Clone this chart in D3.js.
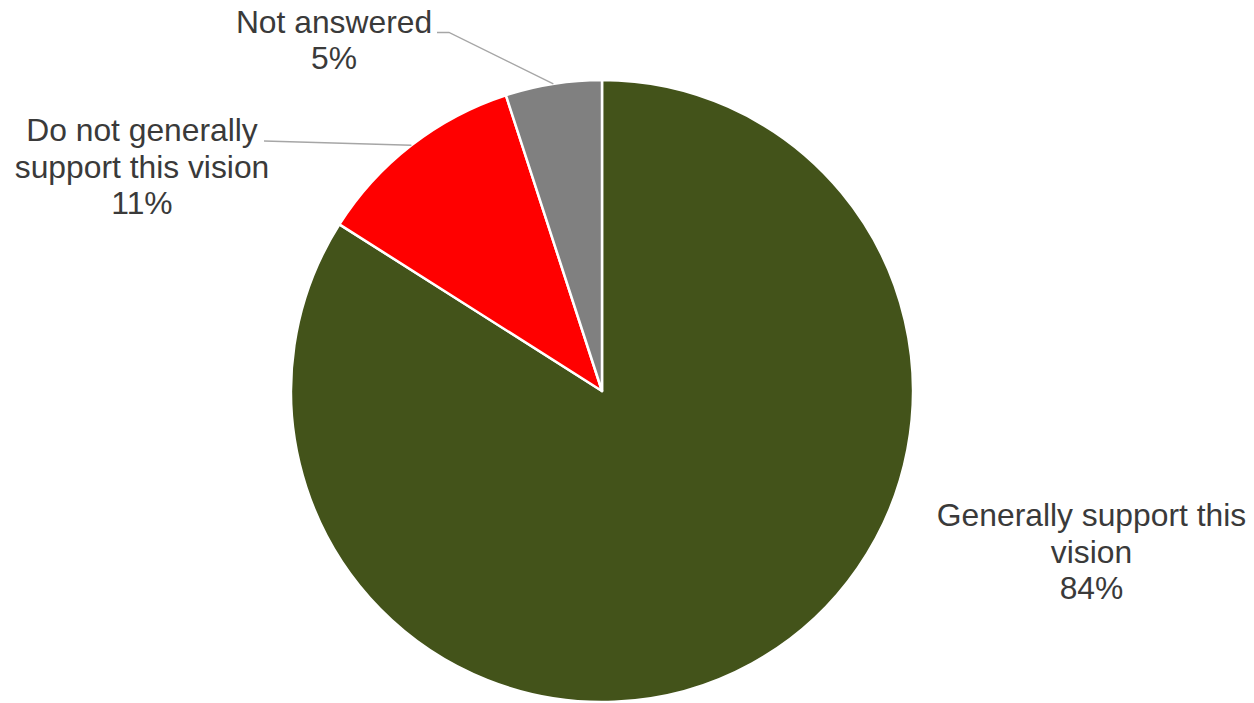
<!DOCTYPE html>
<html>
<head>
<meta charset="utf-8">
<script src="https://cdn.jsdelivr.net/npm/d3@7"></script>
<style>
  html, body { margin: 0; padding: 0; background: #fff; }
  svg { display: block; }
  text { font-family: "Liberation Sans", Arial, sans-serif; fill: #3a3a3a; }
</style>
</head>
<body>
<svg id="chart" width="1254" height="703"></svg>
<script>
// Data
const categories = ["Generally support this vision", "Do not generally support this vision", "Not answered"];
const values = [84, 11, 5];
const labelLines = [
  ["Generally support this", "vision", "84%"],
  ["Do not generally", "support this vision", "11%"],
  ["Not answered", "5%"]
];
const colors = ["#43531A", "#FF0000", "#808080"];

const W = 1254, H = 703;
const cx = 602, cy = 391, R = 311;
const svg = d3.select("#chart");
const g = svg.append("g").attr("transform", `translate(${cx},${cy})`);

const pie = d3.pie().sort(null).value(d => d.v);
const data = pie(categories.map((c, i) => ({ c, v: values[i], i })));
const arc = d3.arc().innerRadius(0).outerRadius(R);

g.selectAll("path.slice").data(data).enter().append("path")
  .attr("class", "slice")
  .attr("d", arc)
  .attr("fill", d => colors[d.data.i])
  .attr("stroke", "#fff")
  .attr("stroke-width", 2.5)
  .attr("stroke-linejoin", "round");

// label layout (absolute positions)
const labelPos = [
  { x: 1091.5, y: 526, leader: null },
  { x: 142, y: 141, leader: { x0: 264, y0: 141 } },
  { x: 334, y: 32.5, leader: { x0: 437, y0: 32.5, x1: 449 } }
];
const lineH = 36.5;

data.forEach((d, k) => {
  const lp = labelPos[k];
  const t = svg.append("text")
    .attr("text-anchor", "middle")
    .attr("font-size", "31.8px");
  labelLines[k].forEach((ln, j) => {
    t.append("tspan").attr("x", lp.x).attr("y", lp.y + j * lineH).text(ln);
  });
  if (lp.leader) {
    const mid = (d.startAngle + d.endAngle) / 2;
    const ex = cx + R * Math.sin(mid);
    const ey = cy - R * Math.cos(mid);
    const pts = [[lp.leader.x0, lp.leader.y0]];
    if (lp.leader.x1) pts.push([lp.leader.x1, lp.leader.y0]);
    pts.push([ex, ey]);
    svg.append("path")
      .attr("d", d3.line()(pts))
      .attr("fill", "none")
      .attr("stroke", "#A6A6A6")
      .attr("stroke-width", 1.3);
  }
});
</script>
</body>
</html>
